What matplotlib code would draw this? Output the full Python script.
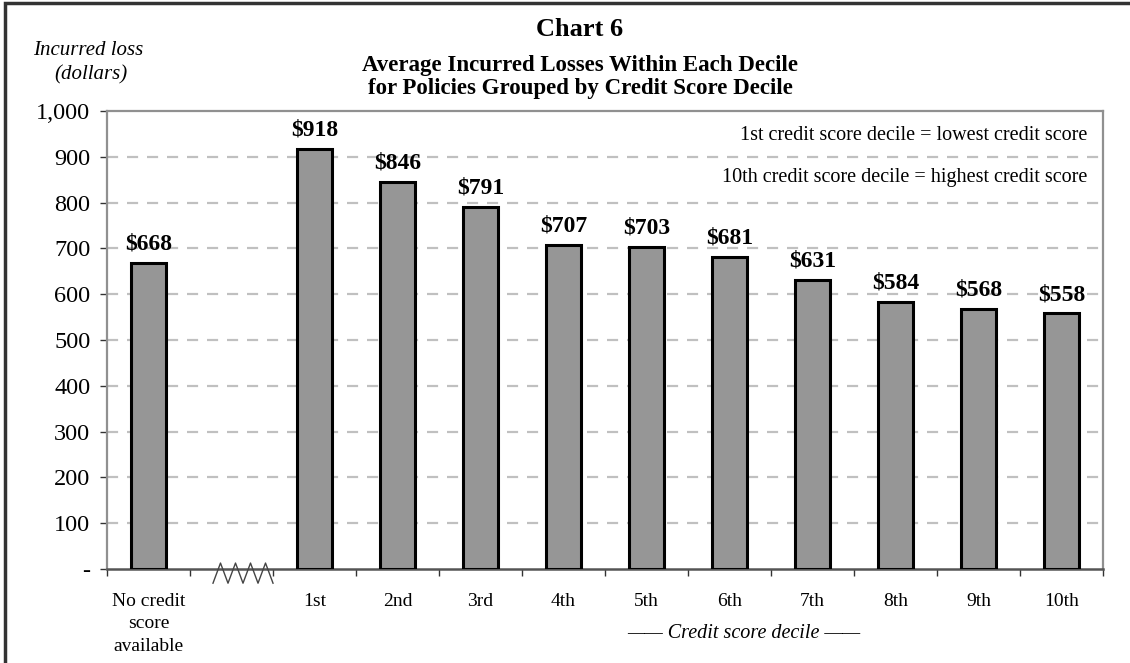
import matplotlib
matplotlib.use("Agg")
import matplotlib.pyplot as plt
from matplotlib.patches import Rectangle
import matplotlib.transforms as mtransforms

categories = ["No credit\nscore\navailable", "", "1st", "2nd", "3rd", "4th", "5th",
              "6th", "7th", "8th", "9th", "10th"]
values = [668, None, 918, 846, 791, 707, 703, 681, 631, 584, 568, 558]
y_ticks = [0, 100, 200, 300, 400, 500, 600, 700, 800, 900, 1000]
y_tick_labels = ["-", "100", "200", "300", "400", "500", "600", "700", "800", "900", "1,000"]

plt.rcParams['font.family'] = ['Liberation Serif', 'DejaVu Serif']

fig = plt.figure(figsize=(11.30, 6.63), dpi=100)
ax = fig.add_axes([107/1130, 1-569/663, (1103-107)/1130, (569-111)/663])

xs = [i for i, v in enumerate(values) if v is not None]
vs = [v for v in values if v is not None]
ax.bar(xs, vs, width=0.41, color="#969696", edgecolor="black", linewidth=2.2, zorder=3)

for x, v in zip(xs, vs):
    ax.annotate(f"${v}", (x, v), xytext=(0, 6), textcoords="offset points",
                ha="center", va="bottom", fontsize=17, fontweight="bold")

ax.set_xlim(-0.5, len(categories) - 0.5)
ax.set_ylim(0, 1000)
ax.set_yticks(y_ticks)
ax.set_yticklabels(y_tick_labels, fontsize=17.5)
for yv in y_ticks[1:-1]:
    ax.axhline(yv, color="#c0c0c0", linestyle=(0, (5, 4)), linewidth=1.6, zorder=1)

ax.set_xticks(range(len(categories)))
ax.set_xticklabels(categories, fontsize=14, linespacing=1.45)
ax.tick_params(axis="x", which="major", length=0, pad=17)
ax.set_xticks([i - 0.5 for i in range(len(categories) + 1)], minor=True)
ax.tick_params(axis="x", which="minor", length=5, width=1, color="#333333", direction="out")
ax.tick_params(axis="y", length=5, width=1, color="#333333", direction="out", pad=7)

for s in ["left", "top", "right"]:
    ax.spines[s].set_color("#909090")
    ax.spines[s].set_linewidth(1.6)
ax.spines["bottom"].set_color("#555555")
ax.spines["bottom"].set_linewidth(1.8)

# axis break zigzag
trans = mtransforms.blended_transform_factory(ax.transData, ax.transAxes)
zx = [0.777 + 0.0904 * k for k in range(9)]
zy = [-0.031, 0.013, -0.031, 0.013, -0.031, 0.013, -0.031, 0.013, -0.031]
ax.plot(zx, zy, color="#444444", linewidth=1, transform=trans, clip_on=False, zorder=4)

ax.text(1087/1130, 1-135/663, "1st credit score decile = lowest credit score", transform=fig.transFigure,
        ha="right", va="center", fontsize=14.5)
ax.text(1087/1130, 1-178/663, "10th credit score decile = highest credit score", transform=fig.transFigure,
        ha="right", va="center", fontsize=14.5)

fig.text(580/1130, 1-36/663, "Chart 6", ha="center", va="baseline", fontsize=19, fontweight="bold")
fig.text(580/1130, 1-71/663, "Average Incurred Losses Within Each Decile", ha="center", va="baseline",
         fontsize=16.5, fontweight="bold")
fig.text(580/1130, 1-94/663, "for Policies Grouped by Credit Score Decile", ha="center", va="baseline",
         fontsize=16.5, fontweight="bold")
fig.text(88/1130, 1-55/663, "Incurred loss", ha="center", va="baseline", fontsize=15, style="italic")
fig.text(91/1130, 1-79/663, "(dollars)", ha="center", va="baseline", fontsize=15, style="italic")
fig.text(744/1130, 1-634/663, "—— Credit score decile ——", ha="center", va="center",
         fontsize=14.5, style="italic")

fig.patches.append(Rectangle((5/1130, -0.1), 1.2, 1.1 - 3/663, transform=fig.transFigure,
                             fill=False, edgecolor="#333333", linewidth=2.5))

fig.savefig("out.png", dpi=100)
